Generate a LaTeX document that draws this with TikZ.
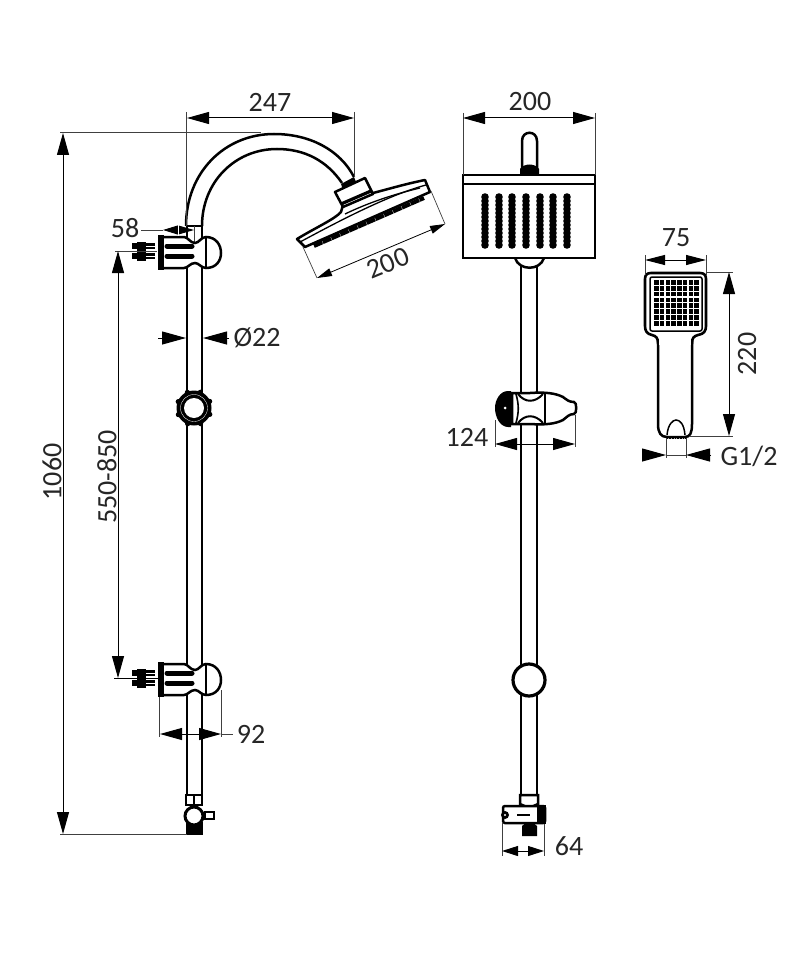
\documentclass[tikz,border=0pt]{standalone}
\usepackage{fontspec}
\setmainfont{Carlito}
\usetikzlibrary{arrows.meta}
\tikzset{
  pipeline/.style={line width=2.5pt,black},
  thinline/.style={line width=0.7pt,black!75},
  dimarrow/.style={line width=1pt,{Triangle[length=22pt,width=12pt]}-{Triangle[length=22pt,width=12pt]}},
  dimhead/.style={line width=1pt,-{Triangle[length=24pt,width=13pt]}},
  dimlabel/.style={font=\fontsize{28}{28}\selectfont,text=black!85,inner sep=0pt}
}
\begin{document}
\begin{tikzpicture}[x=1pt,y=-1pt]
  \useasboundingbox (0,0) rectangle (800,960);
  %stang venstre
	\draw[pipeline] (187,226) -- (187,795);
	\draw[pipeline] (202,226) -- (202,795);
	\draw[line width=1.2pt] (186,226) -- (203,226);
	\draw[thinline] (194,226) -- (194,243);
  %bue
	\draw[pipeline] (186,226) .. controls (186,172) and (225,134) .. (274,134) .. controls (310,134) and (340,150) .. (354,177);
	\draw[pipeline] (202,226) .. controls (202,182) and (235,149) .. (277,149) .. controls (305,149) and (327,161) .. (342,183);
  %hoved fra siden
	\fill (341,184) -- (354,177) -- (356,182) -- (343,190) -- cycle;
	\draw[line width=4pt,dash pattern=on 9pt off 0.6pt] (314,246) -- (424,198);
	\draw[pipeline,fill=white,line join=round] (297,239) .. controls (315,228) and (335,219) .. (341,212) -- (343,205) -- (373,193) .. controls (385,190) and (405,184) .. (425,180) -- (430,192) -- (305,247) -- cycle;
	\draw[line width=1.3pt] (300,242) .. controls (330,226) and (385,196) .. (426,185);
	\draw[line width=1.3pt] (345,214) .. controls (370,202) and (395,194) .. (420,188);
	\draw[pipeline,fill=white,line join=round] (335,192) -- (365,178) -- (373,194) -- (343,207) -- cycle;
	\draw[line width=3.2pt] (341,204) -- (371,191);
  %maal 200 side
	\coordinate (sideA) at (317,278);
	\coordinate (sideB) at (445,224);
	\draw[thinline] (303,247) -- (sideA);
	\draw[thinline] (431,191) -- (sideB);
	\draw[dimarrow,line width=0.8pt,{Triangle[length=15pt,width=8pt]}-{Triangle[length=15pt,width=8pt]}] (sideA) -- (sideB);
	\node[dimlabel,rotate=22.5] (sideLabel) at (388,263) {200};
  %holdere venstre
	\foreach \dy in {0,427} {
	  \begin{scope}[shift={(0,\dy)}]
		\draw[pipeline,fill=white] (164,237) -- (184,237) .. controls (188,237) and (190,243) .. (195,243) .. controls (199,243) and (201,237) .. (206,237) .. controls (216,237) and (221,245) .. (221,253) .. controls (221,261) and (216,268) .. (206,268) .. controls (201,268) and (199,263) .. (195,263) .. controls (190,263) and (188,268) .. (184,268) -- (164,268);
		\draw[line width=1.2pt] (206,237) -- (206,268);
		\fill (158,235) rectangle (164,270);
		\foreach \by in {246,256} {
		  \draw[line width=5pt,line cap=round] (167,\by) -- (192,\by);
		  \draw[line width=6pt] (132,\by) -- (155,\by);
		  \draw[white,line width=0.8pt] (146,\by) -- (155,\by);
		  \fill (137,{\by-4.5}) rectangle (146,{\by+4.5});
		}
	  \end{scope}
	}
  %knap venstre
	\foreach \a in {0,45,...,315} {
	  \fill (194,408) ++(\a+22:17) circle [radius=2.6];
	}
	\fill (194,408) circle [radius=17.5];
	\draw[white,line width=0.3pt] (194,408) circle [radius=13.5];
	\fill[white] (194,408) circle [radius=10];
  %ventil venstre
	\draw[pipeline,fill=white] (186,795) rectangle (202,805);
	\draw[line width=1.5pt] (194,795) -- (194,805);
	\fill (186,822) rectangle (203,835);
	\draw[line width=1.5pt,fill=white] (205,812) rectangle (214,819);
	\draw[line width=3pt,fill=white] (194,816) circle [radius=9];
  %maal 247
	\coordinate (armA) at (187,118);
	\coordinate (armB) at (354,118);
	\draw[thinline] (186,112) -- (186,226);
	\draw[thinline] (354,112) -- (354,177);
	\draw[dimarrow] (armA) -- (armB);
	\node[dimlabel] (armLabel) at (270,102) {247};
  %maal 1060
	\coordinate (totalA) at (63,133);
	\coordinate (totalB) at (63,834);
	\draw[thinline] (60,132) -- (261,132);
	\draw[thinline] (60,834) -- (187,834);
	\draw[dimarrow] (totalA) -- (totalB);
	\node[dimlabel,rotate=90] (totalLabel) at (52,472) {1060};
  %maal 550-850
	\coordinate (slideA) at (118,251);
	\coordinate (slideB) at (118,678);
	\draw[thinline] (115,251) -- (157,251);
	\draw[line width=1pt] (114,678) -- (160,678);
	\draw[dimarrow] (slideA) -- (slideB);
	\node[dimlabel,rotate=90] (slideLabel) at (107,477) {550-850};
  %maal 58
	\coordinate (neckA) at (163,230);
	\coordinate (neckB) at (194,230);
	\coordinate (neckM) at (178,230);
	\draw[thinline] (141,230) -- (neckA);
	\draw[line width=1pt,-{Triangle[length=15pt,width=9pt]}] (neckM) -- (neckA);
	\draw[line width=1pt,-{Triangle[length=16pt,width=9pt]}] (neckM) -- (neckB);
	\draw[white,line width=0.5pt] (178,224) -- (178,236);
	\node[dimlabel] (neckLabel) at (125,228) {58};
  %maal 22
	\coordinate (dimL) at (186,338);
	\coordinate (dimR) at (203,338);
	\draw[dimhead] (158,338) -- (dimL);
	\draw[dimhead] (229,338) -- (dimR);
	\node[dimlabel] (diaLabel) at (257,338) {Ø22};
  %maal 92
	\coordinate (clampA) at (160,734);
	\coordinate (clampB) at (221,734);
	\draw[thinline] (159,697) -- (159,737);
	\draw[thinline] (221,690) -- (221,737);
	\draw[thinline] (221,734) -- (233,734);
	\draw[dimarrow] (clampA) -- (clampB);
	\node[dimlabel] (clampLabel) at (251,734) {92};

  %stang midten
	\draw[pipeline] (521,262) -- (521,795);
	\draw[pipeline] (537,262) -- (537,795);
  %top paa hovedet
	\draw[pipeline] (522,172) -- (522,141) .. controls (522,130) and (537,130) .. (537,141) -- (537,172);
	\fill (520,175) -- (520,169) .. controls (524,163) and (535,163) .. (539,169) -- (539,175) -- cycle;
	\draw[pipeline,fill=white] (515,258) .. controls (519,271) and (540,271) .. (544,258);
	\draw[pipeline,fill=white] (463,175) rectangle (595,258);
	\draw[pipeline] (463,184) -- (595,184);
	\foreach \bx in {485,499,512,526,540,553,567} {
	  \foreach \by in {197,201,...,245} {
		\fill (\bx,\by) circle [radius=3.8];
	  }
	}
  %maal 200 front
	\coordinate (frontA) at (463,118);
	\coordinate (frontB) at (595,118);
	\draw[thinline] (463,113) -- (463,175);
	\draw[thinline] (595,113) -- (595,175);
	\draw[dimarrow] (frontA) -- (frontB);
	\node[dimlabel] (frontLabel) at (530,102) {200};
  %knap midten
	\draw[pipeline,fill=white] (512,393) -- (530,393) .. controls (545,392) and (555,393) .. (563,397) .. controls (567,400) and (569,402) .. (574,402) .. controls (577,402) and (577,414) .. (574,414) .. controls (569,414) and (567,417) .. (563,420) .. controls (555,424) and (545,425) .. (530,424) -- (512,424) -- cycle;
	\draw[line width=1.6pt] (545,392) -- (545,424);
	\draw[line width=1.6pt] (516,394) .. controls (519,405) and (519,412) .. (516,423);
	\draw[line width=2pt] (518,394) .. controls (525,403) and (535,403) .. (543,394);
	\draw[line width=2pt] (518,423) .. controls (525,414) and (535,414) .. (543,423);
	\fill (508,391) .. controls (500,391) and (495,400) .. (495,408) .. controls (495,417) and (500,427) .. (508,427) -- (511,427) -- (511,391) -- cycle;
	\fill[white] (505,408) circle [radius=1.5];
  %maal 124
	\coordinate (knobA) at (495,444);
	\coordinate (knobB) at (575,444);
	\draw[thinline] (495,420) -- (495,447);
	\draw[thinline] (575,415) -- (575,447);
	\draw[dimarrow] (knobA) -- (knobB);
	\node[dimlabel] (knobLabel) at (467,437) {124};
  %ring midten
	\draw[line width=3.2pt,fill=white] (529,680) circle [radius=16];
  %ventil midten
	\draw[pipeline,fill=white] (520,795) -- (538,795) -- (538,804) -- (529,808) -- (520,804) -- cycle;
	\draw[pipeline,fill=white,rounded corners=2pt] (503,806) rectangle (545,823);
	\fill (537,805) rectangle (546,824);
	\draw[line width=1.2pt] (517,815) -- (530,815);
	\fill (505,815) circle [radius=4];
	\fill[white] (505,815) circle [radius=1.2];
	\fill (522,836) -- (522,826) .. controls (526,821) and (533,821) .. (537,826) -- (537,836) -- cycle;
  %maal 64
	\coordinate (valveA) at (502,851);
	\coordinate (valveB) at (544,851);
	\draw[thinline] (502,822) -- (502,856);
	\draw[thinline] (544,824) -- (544,856);
	\draw[dimarrow,{Triangle[length=16pt,width=10pt]}-{Triangle[length=16pt,width=10pt]}] (valveA) -- (valveB);
	\node[dimlabel] (valveLabel) at (569,846) {64};

  %haandbruser
	\draw[pipeline,line join=round] (658,335) -- (658,424) .. controls (658,433) and (661,437) .. (667,437) -- (685,437) .. controls (690,437) and (692,433) .. (692,424) -- (692,335);
	\draw[line width=2.6pt,fill=white] (651,273) -- (700,273) .. controls (704,273) and (706,275) .. (706,279) -- (706,326) .. controls (706,331) and (704,334) .. (698,335) .. controls (694,336) and (692,338) .. (692,343) -- (658,343) .. controls (658,338) and (656,336) .. (652,335) .. controls (647,334) and (645,331) .. (645,326) -- (645,279) .. controls (645,275) and (647,273) .. (651,273) -- cycle;
	\draw[draw=none,fill=white] (659,336) rectangle (691,345);
	\draw[line width=1.5pt,rounded corners=2pt] (650,277) rectangle (702,331);
	\foreach \cx in {0,...,7} {
	  \foreach \cy in {0,...,7} {
		\fill ({654+5.75*\cx},{280+5.85*\cy}) rectangle ++(4.7,4.7);
	  }
	}
	\draw[line width=1.5pt] (667,435) .. controls (668,424) and (673,420) .. (676,420) .. controls (680,420) and (684,424) .. (685,435);
	\draw[line width=2.4pt,dash pattern=on 1pt off 0.6pt] (667,438) -- (685,438);
  %maal 75
	\coordinate (handA) at (645,260);
	\coordinate (handB) at (706,260);
	\draw[thinline] (645,255) -- (645,275);
	\draw[thinline] (706,255) -- (706,275);
	\draw[dimarrow,{Triangle[length=20pt,width=10pt]}-{Triangle[length=20pt,width=10pt]}] (handA) -- (handB);
	\node[dimlabel] (handLabel) at (676,238) {75};
  %maal 220
	\coordinate (longA) at (729,272);
	\coordinate (longB) at (729,436);
	\draw[thinline] (706,272) -- (733,272);
	\draw[thinline] (690,436) -- (733,436);
	\draw[dimarrow] (longA) -- (longB);
	\node[dimlabel,rotate=90] (longLabel) at (747,354) {220};
  %maal G1/2
	\coordinate (threadA) at (666,455);
	\coordinate (threadB) at (686,455);
	\draw[thinline] (666,438) -- (666,458);
	\draw[thinline] (686,438) -- (686,458);
	\draw[thinline] (666,455) -- (686,455);
	\draw[dimhead] (642,455) -- (threadA);
	\draw[dimhead] (711,455) -- (threadB);
	\node[dimlabel] (threadLabel) at (749,456) {G1/2};
\end{tikzpicture}
\end{document}
